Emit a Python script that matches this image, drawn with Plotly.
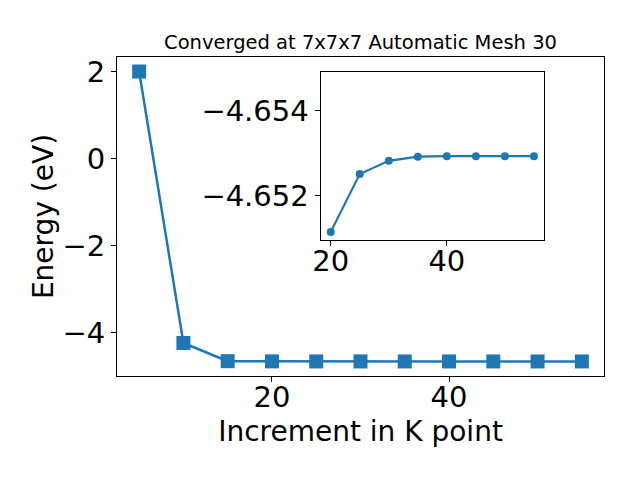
import plotly.graph_objects as go

kpoints = [5, 10, 15, 20, 25, 30, 35, 40, 45, 50, 55]
energy = [2.0, -4.23, -4.647, -4.65114, -4.65251, -4.65282, -4.65292, -4.65293, -4.65293, -4.65293, -4.65293]

inset_k = [20, 25, 30, 35, 40, 45, 50, 55]
inset_e = [-4.65114, -4.65251, -4.65282, -4.65292, -4.65293, -4.65293, -4.65293, -4.65293]

title = "Converged at 7x7x7 Automatic Mesh 30"
xlabel = "Increment in K point"
ylabel = "Energy (eV)"
main_ticks_x = [20, 40]
main_ticks_y = [-4, -2, 0, 2]
inset_ticks_x = [20, 40]
inset_ticks_y = [-4.654, -4.652]

blue = "#1f77b4"
font = "DejaVu Sans"

fig = go.Figure()
fig.add_trace(go.Scatter(x=kpoints, y=energy, mode="lines+markers",
                         line=dict(color=blue, width=2.5),
                         marker=dict(symbol="square", size=14, color=blue),
                         xaxis="x", yaxis="y", showlegend=False))
fig.add_trace(go.Scatter(x=inset_k, y=inset_e, mode="lines+markers",
                         line=dict(color=blue, width=2.2),
                         marker=dict(symbol="circle", size=8, color=blue),
                         xaxis="x2", yaxis="y2", showlegend=False))

axis_common = dict(showline=True, linecolor="black", linewidth=1.1, mirror=True,
                   ticks="outside", ticklen=5, tickwidth=1.1, tickcolor="black",
                   showgrid=False, zeroline=False,
                   tickfont=dict(family=font, size=29, color="black"))

fig.update_layout(
    width=640, height=480,
    margin=dict(l=109, r=44, t=49, b=112),
    paper_bgcolor="white", plot_bgcolor="white",
    font=dict(family=font, color="black"),
    title=dict(text=title, xref="paper", x=0.5, xanchor="center", y=1 - 34 / 480, yanchor="middle",
               font=dict(family=font, size=19.5, color="black")),
    xaxis=dict(range=[2.5, 57.5], tickvals=main_ticks_x, ticklabelstandoff=-10,
               title=dict(text=xlabel, font=dict(family=font, size=28), standoff=8),
               **axis_common),
    yaxis=dict(range=[-4.987, 2.333], tickvals=main_ticks_y,
               title=dict(text=ylabel, font=dict(family=font, size=28), standoff=0),
               **axis_common),
    xaxis2=dict(domain=[0.418, 0.877], anchor="y2", range=[18.25, 56.75],
                tickvals=inset_ticks_x, ticklabelstandoff=-10, **axis_common),
    yaxis2=dict(domain=[0.426, 0.952], anchor="x2", range=[-4.65095, -4.65491],
                tickvals=inset_ticks_y, tickformat=".3f", **axis_common),
    shapes=[dict(type="rect", xref="paper", yref="paper", x0=0.418, x1=0.877,
                 y0=0.426, y1=0.952, fillcolor="white", line=dict(width=0), layer="below")],
)

fig.write_html("out.html")
